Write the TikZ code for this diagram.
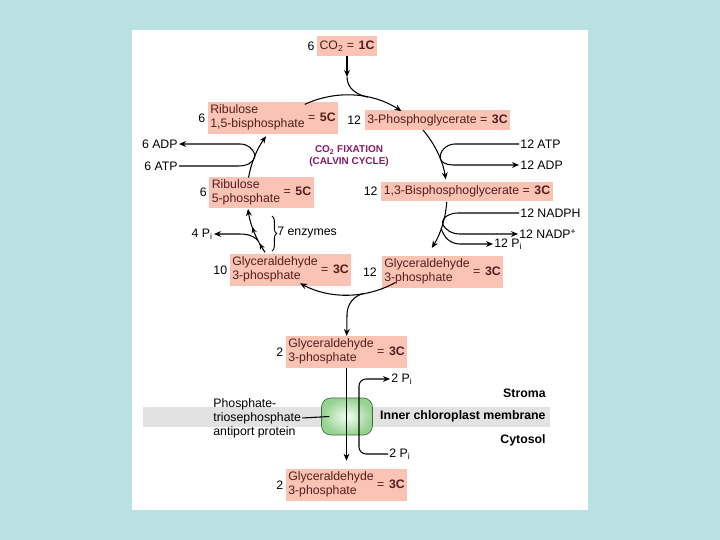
\documentclass[tikz,border=0pt]{standalone}
\usepackage{fontspec}
\setmainfont{Liberation Sans}
\usetikzlibrary{arrows.meta,calc,positioning,decorations.markings,decorations.pathreplacing}
\definecolor{bgblue}{RGB}{185,225,228}
\definecolor{salmon}{RGB}{250,195,180}
\definecolor{cpdtext}{RGB}{85,30,30}
\definecolor{calvin}{RGB}{135,25,100}
\definecolor{memgray}{RGB}{226,226,226}
\definecolor{protgreen}{RGB}{150,210,145}
\definecolor{protedge}{RGB}{60,110,60}
\tikzstyle{cpd}=[fill=salmon, text=cpdtext, inner xsep=2pt, inner ysep=1.5pt, minimum height=17pt, font=\fontsize{10.5}{12}\selectfont]
\tikzstyle{num}=[inner sep=1pt, font=\fontsize{10.5}{12}\selectfont]
\tikzstyle{lbl}=[inner sep=1pt, font=\fontsize{10.5}{12}\selectfont]
\tikzstyle{conn}=[line width=0.9pt]
\tikzstyle{flow}=[conn, -{Stealth[length=6pt,width=5pt]}]
\tikzstyle{midarr}=[postaction={decorate,decoration={markings,
  mark=at position 0.22 with {\arrow{Stealth[length=5pt,width=4.5pt]}},
  mark=at position 0.6 with {\arrow{Stealth[length=5pt,width=4.5pt]}}}}]
\newcommand{\cpd}{\node[cpd]}
\newcommand{\twoline}[2]{\begin{tabular}{@{}l@{}}#1\\#2\end{tabular}}
\newcommand{\phos}{P\textsubscript{i}}
\newcommand{\eqC}[1]{=\hspace{4pt}\textbf{#1}}

\begin{document}
\begin{tikzpicture}[x=0.03cm, y=-0.03cm]
\useasboundingbox (0,0) rectangle (720,540);
\fill[bgblue] (0,0) rectangle (720,540);
\fill[white] (132,30) rectangle (588,510);
\fill[memgray] (143,407) rectangle (550,427);

% compounds of the cycle
\cpd (co2) at (347,46) {CO\textsubscript{2} \eqC{1C}};
\cpd (rubp) at (273,118) {\twoline{Ribulose}{1,5-bisphosphate} \eqC{5C}};
\cpd (pga) at (437.5,120) {3-Phosphoglycerate \eqC{3C}};
\cpd (ru5p) at (261.5,192.5) {\twoline{Ribulose}{5-phosphate} \eqC{5C}};
\cpd (bpg) at (467,191.5) {1,3-Bisphosphoglycerate \eqC{3C}};
\cpd (gap10) at (290.5,270) {\twoline{Glyceraldehyde}{3-phosphate} \eqC{3C}};
\cpd (gap12) at (442.5,272) {\twoline{Glyceraldehyde}{3-phosphate} \eqC{3C}};
\cpd (gapout) at (346.5,352) {\twoline{Glyceraldehyde}{3-phosphate} \eqC{3C}};
\cpd (gapcyt) at (346.5,485) {\twoline{Glyceraldehyde}{3-phosphate} \eqC{3C}};

\node[num, left=1pt of co2] (co2n) {6};
\node[num, left=1pt of rubp] (rubpn) {6};
\node[num, left=2pt of pga] (pgan) {12};
\node[num, left=1pt of ru5p] (ru5pn) {6};
\node[num, left=2pt of bpg] (bpgn) {12};
\node[num, left=1pt of gap10] (gap10n) {10};
\node[num, left=3pt of gap12] (gap12n) {12};
\node[num, left=1pt of gapout] (gapoutn) {2};
\node[num, left=1pt of gapcyt] (gapcytn) {2};

\node[font=\fontsize{8.5}{10}\selectfont\bfseries, text=calvin, align=center] (fix) at (349,156) {CO\textsubscript{2} FIXATION\\(CALVIN CYCLE)};

% side inputs and outputs
\node[lbl, anchor=east] (adp6) at (179,144) {6 ADP};
\node[lbl, anchor=east] (atp6) at (179,166) {6 ATP};
\node[lbl, anchor=west] (atp12) at (519,144) {12 ATP};
\node[lbl, anchor=west] (adp12) at (519,165) {12 ADP};
\node[lbl, anchor=west] (nadph) at (519,213) {12 NADPH};
\node[lbl, anchor=west] (nadp) at (518,234) {12 NADP\textsuperscript{+}};
\node[lbl, anchor=west] (pi12) at (493,244) {12 \phos};
\node[lbl, anchor=east] (pi4) at (214,234) {4 \phos};
\node[lbl, anchor=west] (enz) at (276,233) {7 enzymes};

% cycle
\coordinate (ctr) at (347,195);
\foreach \n/\a in {rb1/-115,co2m/-78,pg1/-40.5,j12/-21,bp1/4,j34/17,pid/19.5,
  ga1/61,spl/80,gl1/145,pi4d/153,r51/190,j6/203}
  \coordinate (\n) at ($(ctr)+(\a:100)$);
\coordinate (co2tip) at (347,77);

\draw[flow] (rb1) arc[start angle=-115, end angle=-57, radius=100];
\draw[flow] (pg1) arc[start angle=-40.5, end angle=-9, radius=100];
\draw[flow] (bp1) arc[start angle=4, end angle=32, radius=100];
\draw[flow] (ga1) arc[start angle=61, end angle=118, radius=100];
\draw[flow, midarr] (gl1) arc[start angle=145, end angle=172, radius=100];
\draw[flow] (r51) arc[start angle=190, end angle=216, radius=100];

\draw[flow] (co2) -- (co2tip);
\draw[conn] (co2tip) to[out=-90, in=168] (co2m);
\draw[conn] (atp12.west) -- ++(-64,0) to[out=180, in=100] (j12);
\draw[flow] (j12) to[out=-60, in=180] (458,165) -- (adp12.west);
\draw[conn] (nadph.west) -- ++(-61,0) to[out=180, in=100] (j34);
\draw[flow] (j34) to[out=-60, in=180] (460,234) -- (nadp.west);
\draw[flow] (pid) to[out=-75, in=180] (460,244) -- (pi12.west);
\draw[flow] (spl) to[out=190, in=90] (347,315) -- (gapout);
\draw[flow] (pi4d) to[out=135, in=0] (238,234) -- (pi4.east);
\draw[conn] (atp6.east) -- (238,166) to[out=0, in=-100] (j6);
\draw[flow] (j6) to[out=100, in=0] (240,144) -- (adp6.east);
\draw[decorate, decoration={brace, amplitude=4pt}, line width=0.8pt] (272,216) -- (272,251);

% transport across the inner membrane
\node[draw=protedge, line width=0.6pt, rounded corners=8pt, shading=radial,
  inner color=green!6, outer color=protgreen, minimum width=1.53cm,
  minimum height=1.11cm] (prot) at (347,416.5) {};
\node[lbl, align=left, anchor=west] (anti) at (212,418) {Phosphate-\\triosephosphate\\antiport protein};
\draw[conn] (anti.east) -- ([xshift=7pt]prot.west);
\node[lbl, anchor=west] (pit) at (390,379) {2 \phos};
\node[lbl, anchor=west] (pib) at (388,454) {2 \phos};
\draw[flow] (gapout) -- ([yshift=7pt]gapcyt.north);
\draw[flow, rounded corners=6pt] (pib.west) -| (359,420) |- (pit.west);

\node[lbl, anchor=east, font=\fontsize{10.5}{12}\selectfont\bfseries] (stroma) at (547,393) {Stroma};
\node[lbl, anchor=east, font=\fontsize{10.5}{12}\selectfont\bfseries] (memb) at (547,416) {Inner chloroplast membrane};
\node[lbl, anchor=east, font=\fontsize{10.5}{12}\selectfont\bfseries] (cyto) at (547,440) {Cytosol};
\end{tikzpicture}
\end{document}
